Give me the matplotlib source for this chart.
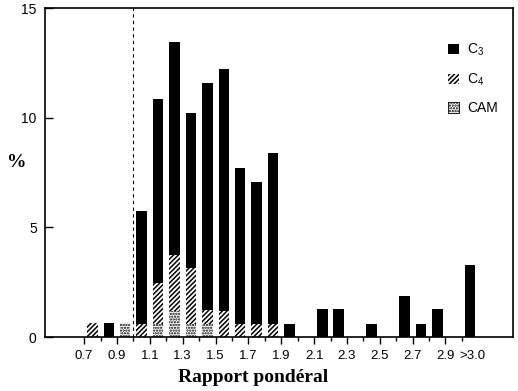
import matplotlib

matplotlib.use("Agg")

import numpy as np
from matplotlib import pyplot as plt
from matplotlib.patches import Patch
from matplotlib.ticker import FixedLocator

# bin starts (rapport pondéral), last bin is ">3.0"
bins = [0.7, 0.8, 0.9, 1.0, 1.1, 1.2, 1.3, 1.4, 1.5, 1.6, 1.7, 1.8,
        1.9, 2.0, 2.1, 2.2, 2.3, 2.4, 2.5, 2.6, 2.7, 2.8, 2.9, 3.0]
cam = [0, 0, 0.65, 0, 0.6, 1.2, 0.6, 0.6, 0, 0, 0, 0,
       0, 0, 0, 0, 0, 0, 0, 0, 0, 0, 0, 0]
c4 = [0.65, 0, 0, 0.6, 1.87, 2.52, 2.56, 0.63, 1.2, 0.6, 0.6, 0.6,
      0, 0, 0, 0, 0, 0, 0, 0, 0, 0, 0, 0]
c3 = [0, 0.65, 0, 5.17, 8.4, 9.75, 7.08, 10.35, 11.04, 7.13, 6.48, 7.8,
      0.6, 0, 1.26, 1.26, 0, 0.6, 0, 1.88, 0.6, 1.26, 0, 3.29]

tick_values = [0.7, 0.9, 1.1, 1.3, 1.5, 1.7, 1.9, 2.1, 2.3, 2.5, 2.7, 2.9]
tick_labels = ["0.7", "0.9", "1.1", "1.3", "1.5", "1.7", "1.9",
               "2.1", "2.3", "2.5", "2.7", "2.9"]
last_label = ">3.0"

plt.rcParams.update({
    "font.family": "Liberation Sans",
    "mathtext.default": "regular",
    "hatch.linewidth": 1.1,
})

fig = plt.figure(figsize=(5.18, 3.91), dpi=100, facecolor="white")
ax = fig.add_axes([0.087, 0.138, 0.903, 0.841])

x = np.array(bins) + 0.018
cam = np.array(cam)
c4 = np.array(c4)
c3 = np.array(c3)
w = 0.064

ax.bar(x, cam, width=w, align="edge", color="white", edgecolor="black",
       linewidth=0, hatch="......")
ax.bar(x, c4, width=w, bottom=cam, align="edge", color="white",
       edgecolor="black", linewidth=0, hatch="///////")
ax.bar(x, c3, width=w, bottom=cam + c4, align="edge", color="black",
       edgecolor="black", linewidth=0)

ax.axvline(1.0, color="black", linewidth=0.8, linestyle=(0, (3, 3)))

ax.set_xlim(0.462, 3.31)
ax.set_ylim(0, 15)
ax.set_yticks([0, 5, 10, 15])

ax.set_xticks(tick_values + [3.065])
ax.set_xticklabels(tick_labels + [last_label])
ax.xaxis.get_major_ticks()[-1].tick1line.set_visible(False)
minor = [b for b in bins if all(abs(b - t) > 1e-6 for t in tick_values)]
ax.xaxis.set_minor_locator(FixedLocator(minor))

ax.tick_params(axis="x", which="major", direction="out", length=5,
               width=1, labelsize=9.5, pad=4)
ax.tick_params(axis="x", which="minor", direction="out", length=3, width=1)
ax.tick_params(axis="y", direction="in", length=6, width=1, labelsize=10,
               pad=6)
for s in ax.spines.values():
    s.set_linewidth(1.2)

fig.text(253 / 518, 1 - 378 / 391, "Rapport pondéral", ha="center",
         va="center", family="Liberation Serif", fontweight="bold",
         fontsize=14)
fig.text(17 / 518, 1 - 163 / 391, "%", ha="center", va="center",
         family="Liberation Serif", fontweight="bold", fontsize=14)

handles = [
    Patch(facecolor="black", edgecolor="black", linewidth=0),
    Patch(facecolor="white", edgecolor="black", linewidth=0, hatch="///////"),
    Patch(facecolor="white", edgecolor="black", linewidth=0.6, hatch="......"),
]
ax.legend(handles, ["C$_3$", "C$_4$", "CAM"], loc="upper left",
          bbox_to_anchor=(0.835, 0.935), frameon=False, fontsize=10,
          handlelength=0.75, handleheight=0.75, handletextpad=0.6,
          labelspacing=0.95)

fig.savefig("out.png", dpi=100, facecolor="white")
